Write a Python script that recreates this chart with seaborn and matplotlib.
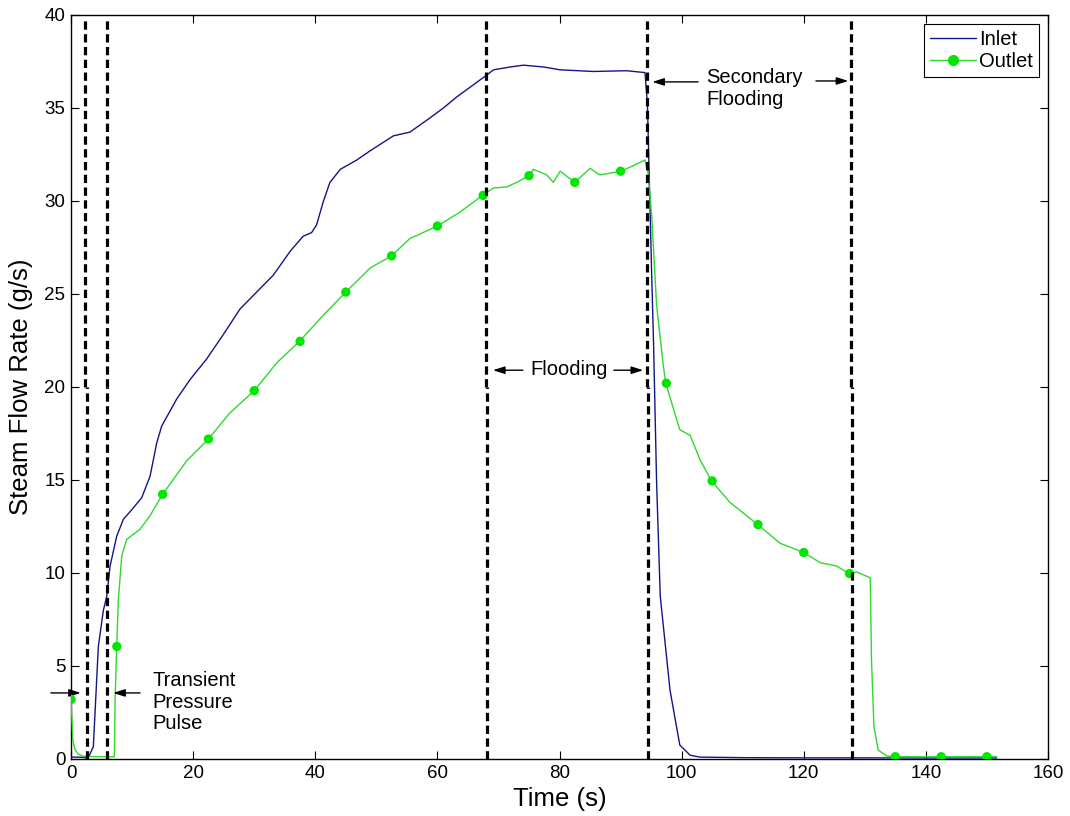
import numpy as np
import pandas as pd
import seaborn as sns
import matplotlib.pyplot as plt
from matplotlib.lines import Line2D

# Inlet steam flow
inlet_t = [0, 1.0, 2.0, 2.8, 3.65, 4.47, 5.3, 5.85, 6.39, 7.48, 8.57, 10.2, 11.58,
           12.94, 14.04, 14.85, 17.3, 19.5, 22.2, 24.9, 27.7, 30.4, 33.1, 35.9, 38.0,
           39.4, 40.2, 41.3, 42.4, 44.1, 46.8, 49.0, 52.8, 55.5, 58.3, 61.0, 63.2,
           65.3, 67.8, 69.2, 71.9, 74.1, 77.4, 80.1, 85.5, 91.0, 94.0, 94.4, 95.1,
           95.4, 95.9, 96.5, 98.1, 99.7, 101.4, 103.0, 110, 120, 130, 140, 151.6]
inlet_y = [0.1, 0.1, 0.08, 0.05, 0.66, 6.05, 8.0, 8.75, 10.37, 11.98, 12.88, 13.5, 14.05,
           15.2, 17.0, 17.9, 19.35, 20.4, 21.5, 22.8, 24.2, 25.1, 26.0, 27.3, 28.1,
           28.3, 28.7, 29.95, 31.0, 31.7, 32.2, 32.7, 33.5, 33.7, 34.35, 35.0, 35.6,
           36.1, 36.7, 37.05, 37.2, 37.3, 37.2, 37.05, 36.96, 37.0, 36.9, 35.2, 26.0,
           22.4, 14.9, 8.75, 3.7, 0.75, 0.2, 0.1, 0.07, 0.06, 0.06, 0.05, 0.05]

# Outlet steam flow
outlet_t = [0, 0.3, 0.65, 1.2, 2.0, 4.0, 7.1, 7.2, 7.48, 7.75, 8.3, 9.1, 11.3, 12.9,
            15.0, 18.95, 22.5, 26.0, 30.0, 33.7, 37.4, 41.3, 45.0, 49.0, 52.5, 55.5,
            60.0, 63.7, 67.4, 69.2, 71.35, 73.0, 75.0, 75.7, 77.9, 79.0, 80.1, 82.5,
            85.0, 86.6, 90.1, 92.1, 94.0, 94.5, 95.1, 95.9, 97.0, 97.4, 99.7, 101.4,
            103.0, 104.9, 107.9, 110.7, 112.5, 116.1, 120.0, 122.7, 125.4, 127.4,
            128.7, 130.9, 131.1, 131.5, 132.2, 133.6, 135.1, 142.5, 151.6]
outlet_y = [3.2, 1.0, 0.5, 0.25, 0.15, 0.12, 0.12, 3.0, 6.05, 8.57, 10.9, 11.8, 12.35, 13.06,
            14.23, 16.03, 17.2, 18.6, 19.8, 21.3, 22.45, 23.85, 25.1, 26.4, 27.05, 27.98,
            28.65, 29.4, 30.3, 30.7, 30.75, 31.0, 31.36, 31.7, 31.4, 31.0, 31.6, 31.0,
            31.75, 31.4, 31.6, 31.9, 32.2, 31.5, 29.2, 24.4, 21.15, 20.2, 17.7, 17.4,
            16.1, 14.95, 13.8, 13.06, 12.6, 11.6, 11.1, 10.55, 10.37, 9.97,
            10.05, 9.74, 5.3, 1.74, 0.48, 0.16, 0.12, 0.12, 0.13]

# outlet markers every 7.5 s
marker_t = [0, 7.5, 15, 22.5, 30, 37.5, 45, 52.5, 60, 67.5, 75, 82.5, 90, 97.5,
            105, 112.5, 120, 127.5, 135, 142.5, 150]
marker_y = [3.2, 6.05, 14.23, 17.2, 19.8, 22.45, 25.1, 27.05, 28.65, 30.3, 31.36, 31.0,
            31.6, 20.2, 14.95, 12.6, 11.1, 9.97, 0.12, 0.12, 0.12]

# dashed boundaries (upper half drawn a touch to the left of lower half)
bound_upper = [2.3, 5.85, 67.9, 94.3, 127.7]
bound_lower = [2.57, 5.95, 68.1, 94.55, 127.95]

inlet_col = "#14148a"
outlet_col = "#2fd82f"
marker_col = "#00e600"

sns.set_style("ticks")
plt.rcParams["font.family"] = ["Liberation Sans", "DejaVu Sans"]
plt.rcParams["text.color"] = "black"
plt.rcParams["axes.labelcolor"] = "black"

fig = plt.figure(figsize=(10.7, 8.16), dpi=100)
ax = fig.add_axes([0.0664, 0.0699, 0.913, 0.9118])

df_in = pd.DataFrame({"t": inlet_t, "y": inlet_y})
df_out = pd.DataFrame({"t": outlet_t, "y": outlet_y})
df_mk = pd.DataFrame({"t": marker_t, "y": marker_y})

sns.lineplot(data=df_in, x="t", y="y", ax=ax, color=inlet_col, lw=1.0,
             sort=False, estimator=None, zorder=3)
sns.lineplot(data=df_out, x="t", y="y", ax=ax, color=outlet_col, lw=1.0,
             sort=False, estimator=None, zorder=3)
sns.scatterplot(data=df_mk, x="t", y="y", ax=ax, color=marker_col, s=45,
                edgecolor="none", zorder=4)

ax.vlines(bound_upper, 20, 39.8, colors="black", lw=2.3,
          linestyles=(0, (2.6, 1.4)), zorder=5)
ax.vlines(bound_lower, 0, 20, colors="black", lw=2.3,
          linestyles=(0, (2.6, 1.4)), zorder=5)

arrow = dict(arrowstyle="-|>,head_length=0.5,head_width=0.16", color="black",
             lw=1.0, mutation_scale=14, shrinkA=0, shrinkB=0)
# transient pressure pulse
ax.annotate("", xy=(1.6, 3.55), xytext=(-3.3, 3.55), arrowprops=arrow,
            annotation_clip=False)
ax.annotate("", xy=(6.9, 3.55), xytext=(11.3, 3.55), arrowprops=arrow)
ax.text(13.3, 3.05, "Transient\nPressure\nPulse", fontsize=14.5, ha="left",
        va="center", linespacing=1.15, color="black")
# flooding
ax.annotate("", xy=(69.1, 20.9), xytext=(74.0, 20.9), arrowprops=arrow)
ax.annotate("", xy=(93.7, 20.9), xytext=(88.9, 20.9), arrowprops=arrow)
ax.text(81.5, 20.95, "Flooding", fontsize=14.5, ha="center", va="center",
        color="black")
# secondary flooding
ax.annotate("", xy=(95.2, 36.4), xytext=(102.7, 36.4), arrowprops=arrow)
ax.annotate("", xy=(127.3, 36.45), xytext=(122.0, 36.45), arrowprops=arrow)
ax.text(104.0, 36.05, "Secondary\nFlooding", fontsize=14.5, ha="left",
        va="center", linespacing=1.15, color="black")

ax.set_xlim(0, 160)
ax.set_ylim(0, 40)
ax.set_xticks(np.arange(0, 161, 20))
ax.set_yticks(np.arange(0, 41, 5))
ax.tick_params(direction="in", length=6, width=0.8, top=True, right=True,
               labelsize=13.5, colors="black", pad=4)
for sp in ax.spines.values():
    sp.set_visible(True)
    sp.set_color("black")
    sp.set_linewidth(1.0)

ax.set_xlabel("Time (s)", fontsize=18.5, labelpad=4)
ax.set_ylabel("Steam Flow Rate (g/s)", fontsize=18.5, labelpad=8)

handles = [Line2D([], [], color=inlet_col, lw=1.0),
           Line2D([], [], color=outlet_col, lw=1.0, marker="o", markersize=7,
                  markerfacecolor=marker_col, markeredgecolor=marker_col)]
leg = ax.legend(handles, ["Inlet", "Outlet"], loc="upper right", fontsize=14.5,
                frameon=True, fancybox=False, edgecolor="black", framealpha=1,
                borderaxespad=0.45, handlelength=2.3, handletextpad=0.15,
                borderpad=0.3, labelspacing=0.15)
leg.get_frame().set_linewidth(0.8)
for txt in leg.get_texts():
    txt.set_color("black")

fig.savefig("out.png", dpi=100, facecolor="white")
